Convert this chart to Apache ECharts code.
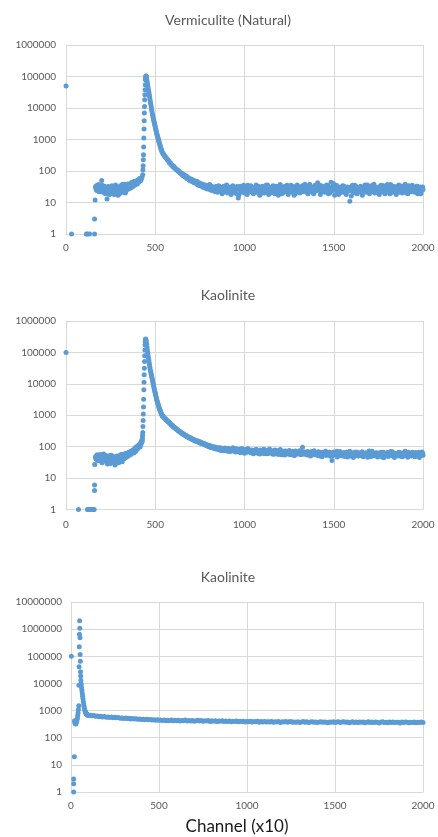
<!DOCTYPE html>
<html>
<head>
<meta charset="utf-8">
<script src="https://cdn.jsdelivr.net/npm/echarts@6/dist/echarts.min.js"></script>
<style>
html,body{margin:0;padding:0;background:#fff;}
#chart{width:438px;height:837px;}
</style>
</head>
<body>
<div id="chart"></div>
<script>
// ---------- Chart titles / axis ----------
const titles = ['Vermiculite (Natural)', 'Kaolinite', 'Kaolinite'];
const xTitle = 'Channel (x10)';
const xTicks = [0, 500, 1000, 1500, 2000];

// ---------- Vermiculite (Natural) ----------
const verLowCh = [0, 31, 114, 121, 132, 160, 160, 163];
const verLowCounts = [50000, 1, 1, 1, 1, 1, 3, 12];
const verPreStart = 165, verPreStep = 5;
const verPre = [30,26,35,28,22,33,27,50,24,31,20,27,23,13,26,21,29,19,24,30,22,18,27,33,20,25,31,19,26,35,21,28,24,38,22,30,26,36,28,33,40,31,37,44,36,42,48,40,50,46,55,52,62];
const verPre2Start = 167, verPre2Step = 5;
const verPre2 = [33,24,29,37,26,30,22,35,28,25,33,19,29,24,32,18,27,23,34,20,28,25,36,22,30,17,27,32,23,29,38,25,31,20,34,27,39,30,35,29,43,36,33,47,40,45,38,52,44,58,49,60];
const verPeakStart = 430, verPeakStep = 1;
const verPeak = [76,110,148,228,330,577,1110,2150,3950,6950,11200,18300,26300,38000,55000,79000,92000,100000,104000,101000,97000];
const verDecayStart = 452, verDecayStep = 2;
const verDecay = [83000,71000,60000,51000,43500,37000,31500,27000,23000,19500,16600,14100,12000,10200,8700,7400,6450,5750,5000,4450,3980,3550,3160,2820,2510,2240,2000,1780,1580,1410,1290,1170,1070,980,890,810,740,680,620,560,510,480,440,410,380];
const verTailStart = 545, verTailStep = 5;
const verTail = [
352,310,296,258,250,219,210,180,178,158,154,136,138,122,120,108,107,96,97,85,
86,76,80,70,74,63,68,58,62,52,57,49,55,46,50,43,48,40,46,38,
42,34,40,33,38,30,36,29,35,27,34,28,37,25,33,24,31,27,22,32,
26,21,34,28,23,30,19,27,33,22,26,36,20,28,24,31,18,27,34,23,
25,30,19,28,14,26,33,21,29,24,35,20,27,31,18,25,29,22,34,26,
24,19,30,27,36,21,25,32,17,28,23,33,26,20,29,35,22,27,18,31,
25,30,21,34,27,19,28,24,32,17,26,37,23,29,20,31,25,33,22,28,
18,30,26,35,21,27,32,24,19,29,36,23,28,20,31,25,34,22,27,30,
24,33,19,28,38,22,26,31,20,29,35,23,27,42,25,30,18,34,26,28,
32,21,27,36,24,19,30,28,44,23,33,26,17,29,35,22,27,31,20,28,
25,34,21,29,26,18,31,27,23,11,30,25,35,20,28,24,32,19,27,29,
22,33,26,17,30,24,36,21,28,25,32,19,29,34,23,27,38,20,30,26,
24,31,18,28,35,22,27,33,20,29,25,37,23,30,19,28,34,21,26,32,
24,18,30,27,36,22,28,33,20,25,31,38,23,27,19,34,26,29,22,35,
25,30,21,28,33,19,27,24,31,22,28,26];
const verTail2Start = 548, verTail2Step = 10;
const verTail2 = [
330,275,232,196,168,145,127,113,102,92,
82,71,67,58,55,48,47,42,42,36,
39,37,32,35,30,33,26,31,28,25,
31,24,29,21,33,26,23,30,20,28,
22,32,17,27,24,30,21,35,26,23,
29,21,33,25,18,27,31,23,36,24,
20,29,26,33,22,28,19,31,25,35,
27,23,30,17,26,33,21,29,24,38,
21,28,32,24,19,30,27,36,22,26,
29,23,34,20,27,40,25,31,18,28,
24,33,20,27,30,16,26,35,22,29,
27,19,31,24,36,22,28,33,21,26,
30,23,27,34,19,29,25,37,22,28,
26,32,21,28,24,35,20,30,27,23,
29,22,33,26,19,31];

// ---------- Kaolinite (middle) ----------
const kaoLowCh = [0, 70, 120, 126, 132, 138, 145, 152, 158, 160, 160, 161];
const kaoLowCounts = [100000, 1, 1, 1, 1, 1, 1, 1, 1, 4, 6, 27];
const kaoPreStart = 165, kaoPreStep = 5;
const kaoPre = [
48,40,55,37,44,52,35,46,41,58,38,45,33,50,42,36,47,29,53,40,
34,45,26,42,50,37,31,44,39,55,33,48,41,52,45,58,49,62,53,60,
57,66,72,63,78,70,88,82,95,105,98,120,140];
const kaoPre2Start = 167, kaoPre2Step = 5;
const kaoPre2 = [
42,52,36,47,39,56,44,31,49,41,54,37,46,28,43,51,35,45,40,33,
48,38,44,30,39,47,36,53,42,57,46,51,44,61,50,56,64,58,69,61,
74,67,80,76,92,86,101,93,112,108,128,150];
const kaoPeakStart = 426, kaoPeakStep = 1;
const kaoPeak = [150,165,186,230,283,436,680,1090,1820,3240,6450,11200,19300,31600,51000,78000,120000,174000,222000,250000,265000,258000,245000];
const kaoDecayStart = 450, kaoDecayStep = 2;
const kaoDecay = [214000,178000,145000,120000,98000,79000,66000,56000,47000,40000,34000,28000,25000,22000,19500,17400,15100,13500,12000,10500,9100,8100,7100,6300,5600,5000,4500,4000,3550,3160,2880,2630,2450,2240,2040,1860,1740,1580,1480,1380,1290,1200,1120,1050,1000,955];
const kaoTailStart = 545, kaoTailStep = 5;
const kaoTail = [
925,820,790,715,700,632,615,560,548,490,475,430,425,390,380,350,345,318,312,290,
288,262,263,240,240,222,225,204,208,190,196,178,182,165,170,155,160,148,154,140,
147,132,140,127,132,120,126,113,118,106,112,100,108,96,103,92,100,88,97,85,
94,82,91,79,92,76,88,80,74,90,77,84,72,87,79,70,85,76,92,73,
80,68,86,74,71,83,65,78,88,69,75,62,81,73,68,84,70,77,64,79,
71,60,76,67,82,63,72,69,58,78,66,73,61,80,68,64,75,59,70,85,
66,62,74,57,69,78,60,67,72,56,65,81,63,58,71,66,54,73,62,68,
59,75,64,55,70,61,67,52,73,63,58,69,60,66,56,72,95,61,57,68,
63,54,70,59,65,50,68,61,57,74,55,64,60,52,69,58,66,62,48,67,
60,56,71,53,63,58,66,50,61,36,57,68,54,62,59,47,65,56,70,52,
61,55,64,49,58,67,53,60,56,71,50,62,57,45,66,54,59,63,51,58,
64,52,57,69,48,61,55,63,58,46,66,53,60,56,72,50,59,62,54,57,
47,63,58,52,67,55,60,44,62,57,53,65,49,59,56,70,51,61,58,45,
62,55,59,50,66,53,57,63,48,60,56,72,52,58,46,64,55,61,50,67,
54,60,48,65,57,52,63,45,59,56,68,53];
const kaoTail2Start = 548, kaoTail2Step = 10;
const kaoTail2 = [
860,740,660,600,520,470,405,372,330,300,
272,250,232,210,198,185,172,162,150,144,
138,128,124,116,110,104,98,95,92,88,
90,84,78,86,75,82,88,72,80,76,
84,70,77,66,80,73,67,86,71,64,
74,68,79,62,71,65,83,60,69,76,
64,70,58,75,61,67,55,72,63,69,
57,66,71,53,64,60,74,56,62,67,
59,65,52,70,61,56,66,50,63,58,
64,53,60,67,49,62,57,71,55,60,
52,63,58,47,65,56,61,54,68,50,
59,66,51,62,55,73,49,60,57,64,
55,61,48,66,58,52,63,56,69,50,
60,54,65,49,58,62,51,67,55,59,
63,50,58,66,53,61];

// ---------- Kaolinite (bottom) ----------
const k3LowCh = [2, 15, 15, 15, 19];
const k3LowCounts = [100000, 1, 2, 3, 20];
const k3PreStart = 20, k3PreStep = 2;
const k3Pre = [420,360,330,350,320,370,400,460,520,640,820,1100,1500];
const k3PeakStart = 45, k3PeakStep = 1;
const k3Peak = [8500,41000,224000,645000,2040000,1070000,480000,117000,66000,27000,18600,13200,10000];
const k3DecayStart = 58, k3DecayStep = 2;
const k3Decay = [8800,7000,5500,4300,3400,2700,2150,1750,1450,1230,1080,960,880,820,780,750,725,705,690,680,672,665];
const k3TailStart = 110, k3TailStep = 10;
const k3Tail = [
668,640,655,615,630,598,612,585,600,570,582,560,575,548,565,540,552,525,538,515,
528,505,520,492,510,486,500,475,492,468,483,462,476,455,470,448,462,440,455,436,
450,432,446,425,440,420,452,418,436,422,440,414,430,418,445,410,428,415,432,405,
425,440,412,428,402,420,410,432,398,418,405,425,396,414,402,420,392,410,398,416,
390,405,395,412,385,400,392,408,380,398,386,402,378,395,384,400,374,392,381,397,
376,390,382,398,370,388,379,394,366,386,377,392,372,384,395,368,382,374,390,365,
380,392,371,386,360,379,388,370,383,364,378,391,369,382,375,356,381,372,387,366,
378,385,362,376,390,368,380,359,374,386,367,378,360,383,371,377,355,372,384,365,
376,362,381,368,352,374,385,364,371,358,379,366,383,360,373,368,350,377,364,380,
368,356,375,363,381,359,372,366,378,362];

// ---------- helpers ----------
function pairs(xs, ys) { return xs.map((x, i) => [x, ys[i]]); }
function run(start, step, vals) { return vals.map((v, i) => [start + i * step, v]); }

const verData = [].concat(pairs(verLowCh, verLowCounts), run(verPreStart, verPreStep, verPre), run(verPre2Start, verPre2Step, verPre2),
  run(verPeakStart, verPeakStep, verPeak), run(verDecayStart, verDecayStep, verDecay),
  run(verTailStart, verTailStep, verTail), run(verTail2Start, verTail2Step, verTail2));
const kaoData = [].concat(pairs(kaoLowCh, kaoLowCounts), run(kaoPreStart, kaoPreStep, kaoPre), run(kaoPre2Start, kaoPre2Step, kaoPre2),
  run(kaoPeakStart, kaoPeakStep, kaoPeak), run(kaoDecayStart, kaoDecayStep, kaoDecay),
  run(kaoTailStart, kaoTailStep, kaoTail), run(kaoTail2Start, kaoTail2Step, kaoTail2));
const k3Data = [].concat(pairs(k3LowCh, k3LowCounts), run(k3PreStart, k3PreStep, k3Pre),
  run(k3PeakStart, k3PeakStep, k3Peak), run(k3DecayStart, k3DecayStep, k3Decay), run(k3TailStart, k3TailStep, k3Tail));

const FONT = 'Lato, "Liberation Sans", sans-serif';
const GRIDC = '#D9D9D9';
const LABC = '#595959';
const BLUE = '#5B9BD5';

function xAxisOf(gi, margin) {
  return {
    type: 'value', gridIndex: gi, min: xTicks[0], max: xTicks[xTicks.length - 1], interval: xTicks[1] - xTicks[0],
    axisLine: { show: true, lineStyle: { color: GRIDC } },
    axisTick: { show: false },
    splitLine: { show: true, lineStyle: { color: GRIDC, width: 1 } },
    axisLabel: { color: LABC, fontSize: 10, fontFamily: FONT, margin: margin,
      formatter: v => String(Math.round(v)) }
  };
}
function yAxisOf(gi, maxV, margin) {
  return {
    type: 'log', logBase: 10, gridIndex: gi, min: 1, max: maxV,
    axisLine: { show: true, lineStyle: { color: GRIDC } },
    axisTick: { show: false },
    minorTick: { show: false },
    splitLine: { show: true, lineStyle: { color: GRIDC, width: 1 } },
    axisLabel: { color: LABC, fontSize: 10, fontFamily: FONT, margin: margin,
      formatter: v => String(Math.round(v)) }
  };
}
function seriesOf(i, data) {
  return {
    type: 'scatter', xAxisIndex: i, yAxisIndex: i, data: data,
    symbol: 'circle', symbolSize: 5,
    itemStyle: { color: BLUE, opacity: 1 },
    emphasis: { disabled: true }, silent: true
  };
}

const chart = echarts.init(document.getElementById('chart'), null, { renderer: 'canvas' });
chart.setOption({
  animation: false,
  backgroundColor: '#ffffff',
  grid: [
    { left: 66, top: 45, width: 357, height: 189 },
    { left: 66, top: 321, width: 357, height: 188.5 },
    { left: 71, top: 602, width: 352, height: 190 }
  ],
  xAxis: [xAxisOf(0, 9), xAxisOf(1, 10), xAxisOf(2, 9)],
  yAxis: [yAxisOf(0, 1000000, 10), yAxisOf(1, 1000000, 10), yAxisOf(2, 10000000, 9)],
  series: [seriesOf(0, verData), seriesOf(1, kaoData), seriesOf(2, k3Data)],
  graphic: [
    { type: 'text', x: 228, y: 20, style: { text: titles[0], fill: LABC, font: '14px ' + FONT, textAlign: 'center', textVerticalAlign: 'middle' } },
    { type: 'text', x: 228, y: 295, style: { text: titles[1], fill: LABC, font: '14px ' + FONT, textAlign: 'center', textVerticalAlign: 'middle' } },
    { type: 'text', x: 228, y: 577, style: { text: titles[2], fill: LABC, font: '14px ' + FONT, textAlign: 'center', textVerticalAlign: 'middle' } },
    { type: 'text', x: 237, y: 827, style: { text: xTitle, fill: '#1a1a1a', font: '17px ' + FONT, textAlign: 'center', textVerticalAlign: 'middle' } }
  ]
});
</script>
</body>
</html>
